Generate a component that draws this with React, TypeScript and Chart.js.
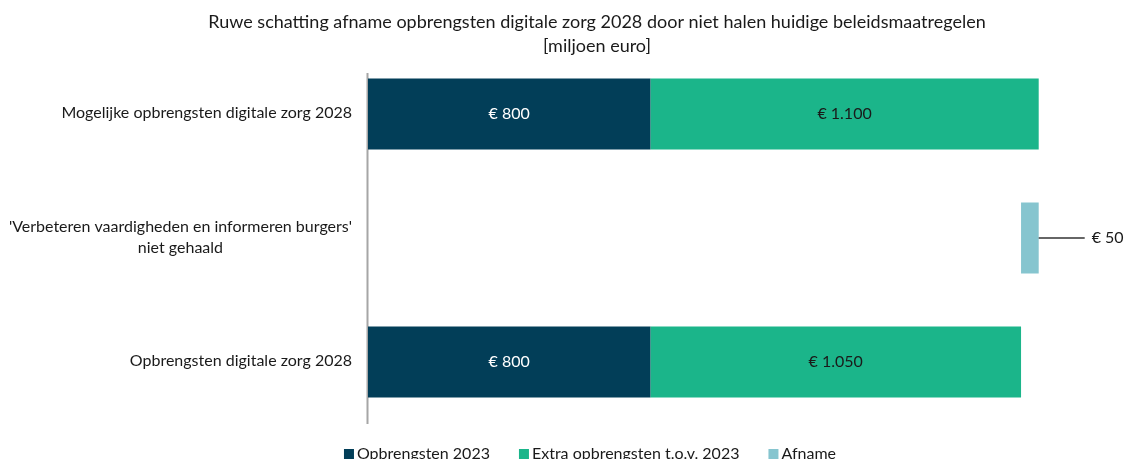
import React, { useEffect, useRef } from "react";
import { Chart, registerables } from "chart.js";

Chart.register(...registerables);

const categories: string[][] = [
  ["Mogelijke opbrengsten digitale zorg 2028"],
  ["'Verbeteren vaardigheden en informeren burgers'", "niet gehaald"],
  ["Opbrengsten digitale zorg 2028"],
];
const seriesNames = ["Opbrengsten 2023", "Extra opbrengsten t.o.v. 2023", "Afname"];
const opbrengsten2023: (number | null)[] = [800, null, 800];
const extraOpbrengsten: (number | null)[] = [1100, null, 1050];
const afname: (number | null)[] = [null, 50, null];
const titleLines = [
  "Ruwe schatting afname opbrengsten digitale zorg 2028 door niet halen huidige beleidsmaatregelen",
  "[miljoen euro]",
];
const xMax = 2000;
const seriesColors = ["#023E58", "#1BB58A", "#86C5CF"];
const labelColors = ["#FFFFFF", "#1A1A1A", "#1A1A1A"];

const FONT = "Lato, 'Noto Sans', sans-serif";

function fmt(n: number): string {
  return "€ " + String(n).replace(/\B(?=(\d{3})+(?!\d))/g, ".");
}

// build floating ranges from the plain values
const totals = opbrengsten2023.map((v, i) =>
  v == null ? null : v + (extraOpbrengsten[i] ?? 0)
);
const navyData = opbrengsten2023.map((v) => (v == null ? null : [0, v]));
const greenData = extraOpbrengsten.map((v, i) => {
  if (v == null) return null;
  const b = opbrengsten2023[i] ?? 0;
  return [b, b + v];
});
const afnameData = afname.map((v, i) => {
  if (v == null) return null;
  const top = totals[i - 1] ?? 0;
  return [top - v, top];
});
const rawValues = [opbrengsten2023, extraOpbrengsten, afname];

const customPlugin = {
  id: "custom",
  beforeDatasetsDraw(chart: any) {
    const { ctx, chartArea } = chart;
    ctx.save();
    ctx.strokeStyle = "#A6A6A6";
    ctx.lineWidth = 2;
    ctx.beginPath();
    ctx.moveTo(chartArea.left - 0.5, 73);
    ctx.lineTo(chartArea.left - 0.5, chartArea.bottom);
    ctx.stroke();
    ctx.restore();
  },
  afterDraw(chart: any) {
    const { ctx, chartArea, scales } = chart;
    ctx.save();
    // title
    ctx.fillStyle = "#1A1A1A";
    ctx.font = `18px ${FONT}`;
    ctx.textAlign = "center";
    ctx.textBaseline = "middle";
    titleLines.forEach((t, i) => ctx.fillText(t, 597, 22 + i * 24));

    // category labels
    ctx.font = `16px ${FONT}`;
    const yScale = scales.y;
    categories.forEach((lines, i) => {
      const y = yScale.getPixelForValue(i);
      const widest = Math.max(...lines.map((l) => ctx.measureText(l).width));
      const cx = chartArea.left - 16 - widest / 2;
      const lh = 21;
      lines.forEach((l, j) => {
        ctx.fillText(l, cx, y - 1 - ((lines.length - 1) * lh) / 2 + j * lh);
      });
    });

    // data labels
    chart.data.datasets.forEach((ds: any, di: number) => {
      const meta = chart.getDatasetMeta(di);
      meta.data.forEach((el: any, idx: number) => {
        const v = rawValues[di][idx];
        if (v == null) return;
        const { x, base, y } = el.getProps(["x", "base", "y"], true);
        if (di === 2) {
          const right = Math.max(x, base);
          ctx.strokeStyle = "#333333";
          ctx.lineWidth = 1.5;
          ctx.beginPath();
          ctx.moveTo(right, y);
          ctx.lineTo(right + 46, y);
          ctx.stroke();
          ctx.fillStyle = "#1A1A1A";
          ctx.textAlign = "left";
          ctx.fillText(fmt(v), right + 53, y);
        } else {
          ctx.fillStyle = labelColors[di];
          ctx.textAlign = "center";
          ctx.fillText(fmt(v), (x + base) / 2, y);
        }
      });
    });

    // legend
    ctx.font = `16px ${FONT}`;
    ctx.textBaseline = "alphabetic";
    ctx.textAlign = "left";
    const box = 10;
    const gapText = 3;
    const gapItem = 29;
    const widths = seriesNames.map((n) => box + gapText + ctx.measureText(n).width);
    const total = widths.reduce((a, b) => a + b, 0) + gapItem * (seriesNames.length - 1);
    let lx = 590 - total / 2;
    const baseY = 458.5;
    seriesNames.forEach((n, i) => {
      ctx.fillStyle = seriesColors[i];
      ctx.fillRect(lx, baseY - 9.5, box, box);
      ctx.fillStyle = "#1A1A1A";
      ctx.fillText(n, lx + box + gapText, baseY);
      lx += widths[i] + gapItem;
    });
    ctx.restore();
  },
};

export default function App() {
  const ref = useRef<HTMLCanvasElement>(null);
  useEffect(() => {
    document.body.style.margin = "0";
    const chart = new Chart(ref.current!, {
      type: "bar",
      data: {
        labels: categories.map((c) => c.join(" ")),
        datasets: [
          { label: seriesNames[0], data: navyData as any, backgroundColor: seriesColors[0] },
          { label: seriesNames[1], data: greenData as any, backgroundColor: seriesColors[1] },
          { label: seriesNames[2], data: afnameData as any, backgroundColor: seriesColors[2] },
        ].map((d) => ({
          ...d,
          grouped: false,
          barPercentage: 0.573,
          categoryPercentage: 1,
          borderWidth: 0,
        })),
      },
      options: {
        indexAxis: "y",
        responsive: false,
        animation: false,
        devicePixelRatio: 1,
        layout: { padding: { top: 52, bottom: 35, left: 0, right: 51 } },
        scales: {
          x: { display: false, min: 0, max: xMax },
          y: {
            grid: { display: false, drawTicks: false },
            border: { display: false },
            ticks: { display: false },
            afterFit: (s: any) => {
              s.width = 368;
            },
          },
        },
        plugins: {
          legend: { display: false },
          title: { display: false },
          tooltip: { enabled: false },
        },
      },
      plugins: [customPlugin],
    });
    return () => chart.destroy();
  }, []);
  return (
    <div style={{ position: "absolute", left: 0, top: 0, width: 1125, height: 459 }}>
      <canvas ref={ref} width={1125} height={459} />
    </div>
  );
}
